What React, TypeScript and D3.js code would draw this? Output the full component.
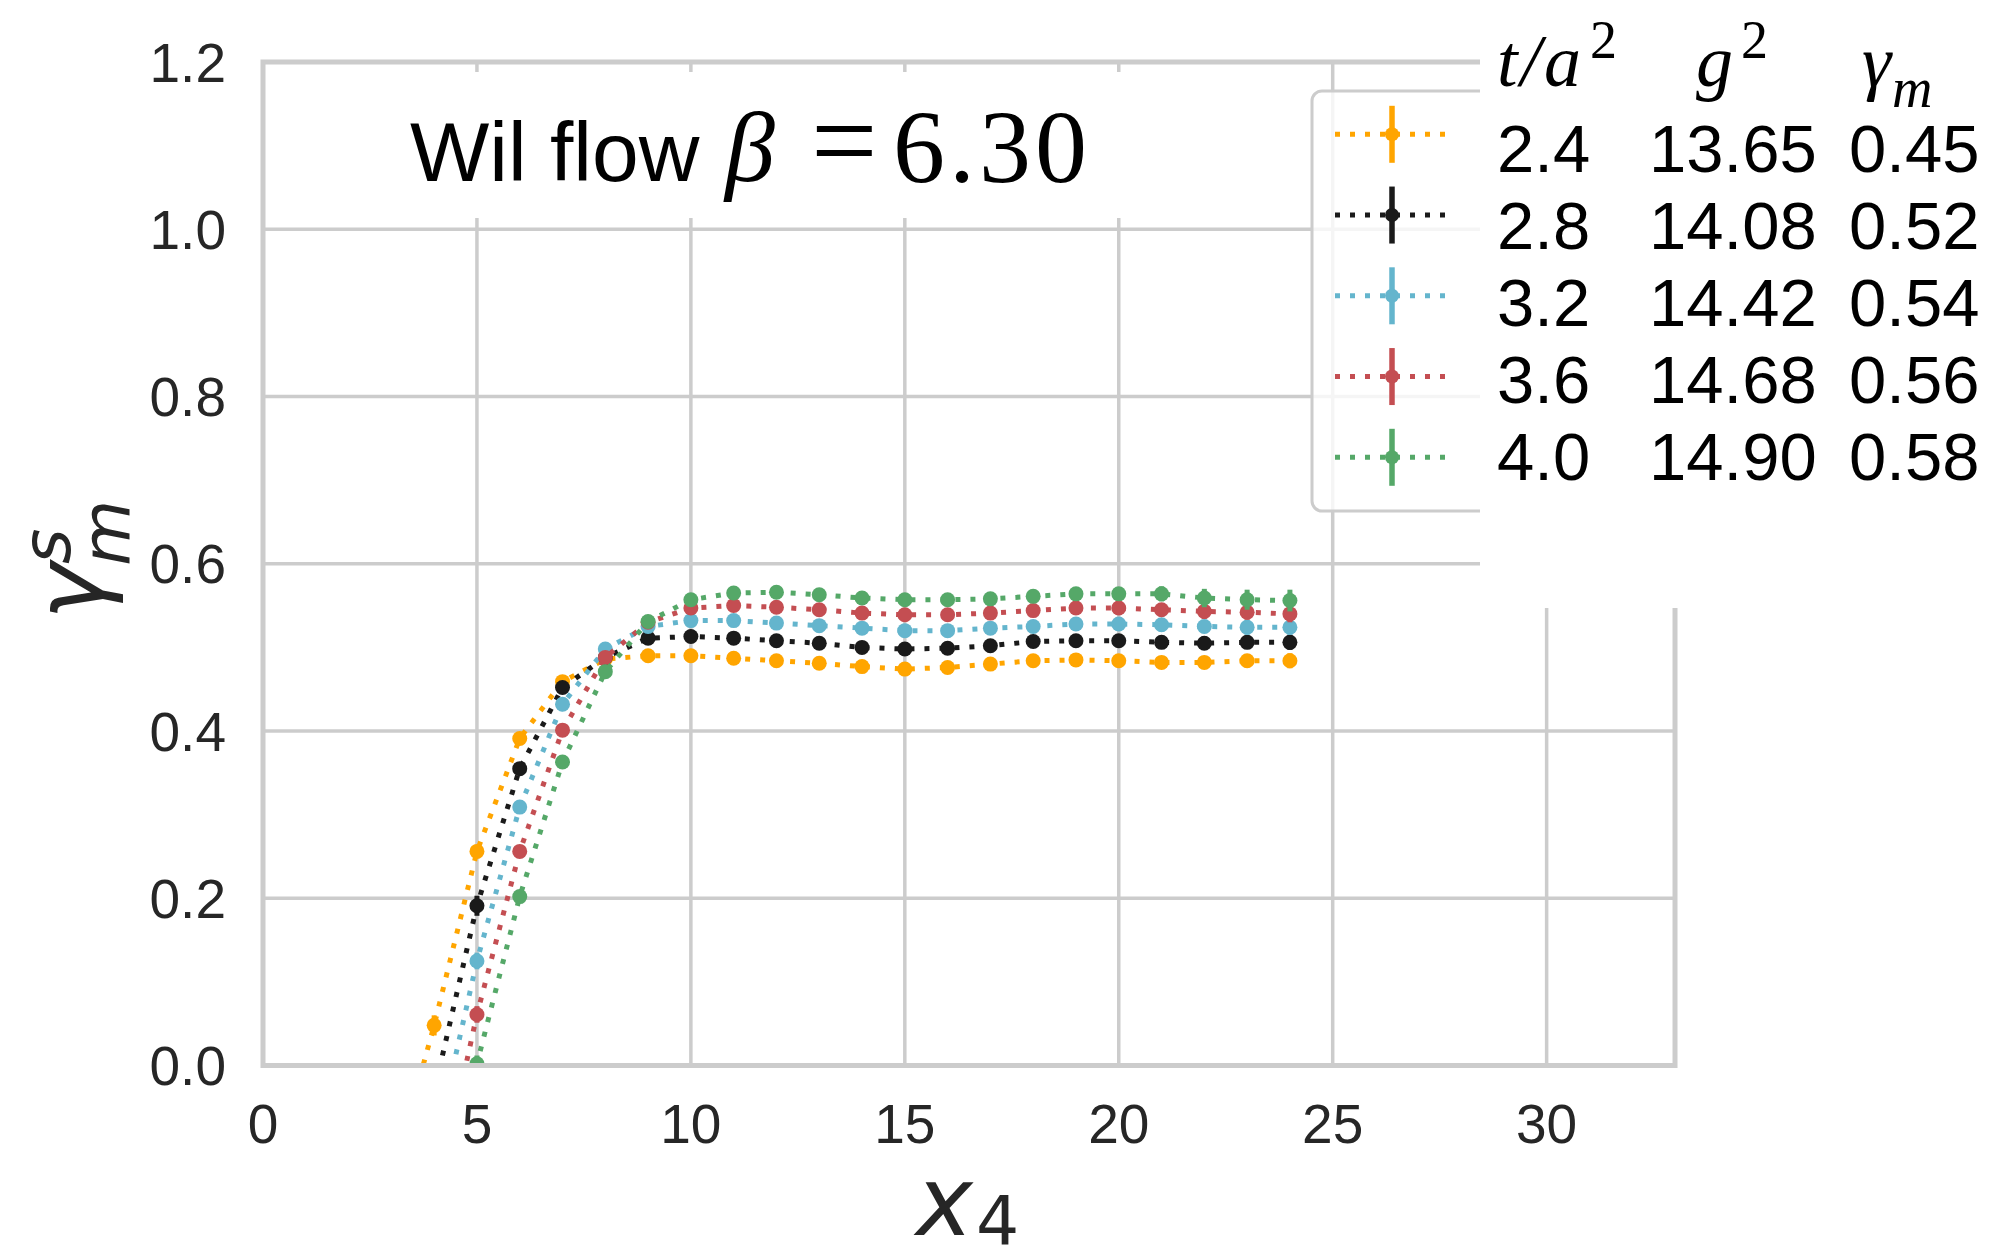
import React from "react";
import * as d3 from "d3";

// Flow-time positions x4 of the measured points
const xPositions = [3, 4, 5, 6, 7, 8, 9, 10, 11, 12, 13, 14, 15, 16, 17, 18, 19, 20, 21, 22, 23, 24];

// gamma_m^s per flow time t/a^2
const orangeValues = [-0.137, 0.048, 0.256, 0.391, 0.459, 0.486, 0.490, 0.490, 0.487, 0.484, 0.481, 0.477, 0.474, 0.476, 0.480, 0.484, 0.485, 0.484, 0.482, 0.482, 0.484, 0.484];
const blackValues = [-0.25, -0.031, 0.191, 0.355, 0.452, 0.488, 0.511, 0.513, 0.511, 0.508, 0.505, 0.500, 0.498, 0.499, 0.502, 0.507, 0.508, 0.508, 0.506, 0.505, 0.506, 0.506];
const blueValues = [-0.30, -0.102, 0.125, 0.309, 0.432, 0.498, 0.525, 0.532, 0.532, 0.529, 0.526, 0.523, 0.520, 0.520, 0.523, 0.525, 0.528, 0.528, 0.527, 0.525, 0.524, 0.524];
const redValues = [-0.36, -0.173, 0.061, 0.256, 0.401, 0.488, 0.530, 0.547, 0.550, 0.548, 0.545, 0.541, 0.539, 0.539, 0.541, 0.544, 0.547, 0.547, 0.545, 0.543, 0.542, 0.540];
const greenValues = [-0.40, -0.20, 0.002, 0.202, 0.363, 0.471, 0.531, 0.557, 0.565, 0.566, 0.563, 0.559, 0.557, 0.557, 0.558, 0.561, 0.564, 0.564, 0.564, 0.559, 0.557, 0.556];

// statistical errors
const orangeErrors = [0.012, 0.012, 0.008, 0.005, 0.004, 0.003, 0.003, 0.003, 0.003, 0.004, 0.004, 0.004, 0.005, 0.005, 0.005, 0.006, 0.006, 0.006, 0.007, 0.007, 0.008, 0.009];
const blackErrors = [0.012, 0.012, 0.012, 0.006, 0.004, 0.003, 0.003, 0.003, 0.004, 0.004, 0.004, 0.005, 0.005, 0.005, 0.006, 0.006, 0.006, 0.007, 0.007, 0.008, 0.008, 0.009];
const blueErrors = [0.012, 0.012, 0.010, 0.006, 0.004, 0.003, 0.003, 0.004, 0.004, 0.004, 0.005, 0.005, 0.005, 0.006, 0.006, 0.006, 0.007, 0.007, 0.008, 0.008, 0.009, 0.009];
const redErrors = [0.012, 0.012, 0.010, 0.006, 0.004, 0.004, 0.004, 0.004, 0.004, 0.005, 0.005, 0.005, 0.006, 0.006, 0.006, 0.007, 0.007, 0.008, 0.008, 0.009, 0.009, 0.010];
const greenErrors = [0.012, 0.012, 0.010, 0.006, 0.005, 0.004, 0.004, 0.004, 0.005, 0.005, 0.005, 0.006, 0.006, 0.006, 0.007, 0.007, 0.008, 0.008, 0.009, 0.011, 0.012, 0.013];

const seriesColors = ["#FFA500", "#1A1A1A", "#64B5CD", "#C44E52", "#55A868"];

// legend table columns
const flowTimes = ["2.4", "2.8", "3.2", "3.6", "4.0"];
const couplings = ["13.65", "14.08", "14.42", "14.68", "14.90"];
const gammaM = ["0.45", "0.52", "0.54", "0.56", "0.58"];

const xTicks = [0, 5, 10, 15, 20, 25, 30];
const yTicks = [0, 0.2, 0.4, 0.6, 0.8, 1.0, 1.2];

const W = 1993;
const H = 1250;
const left = 263;
const right = 1675;
const top = 62;
const bottom = 1065.5;

const SANS = "'Liberation Sans', Arial, sans-serif";
const SERIF = "'Liberation Serif', 'Times New Roman', serif";
const DEJAVU = "'DejaVu Sans', sans-serif";
const GRID = "#cccccc";
const TICK_TEXT = "#262626";

export default function App() {
  const x = d3.scaleLinear().domain([0, 33]).range([left, right]);
  const y = d3.scaleLinear().domain([0, 1.2]).range([bottom, top]);

  const series = [
    { color: seriesColors[0], values: orangeValues, errors: orangeErrors },
    { color: seriesColors[1], values: blackValues, errors: blackErrors },
    { color: seriesColors[2], values: blueValues, errors: blueErrors },
    { color: seriesColors[3], values: redValues, errors: redErrors },
    { color: seriesColors[4], values: greenValues, errors: greenErrors },
  ];

  const line = d3
    .line<number>()
    .x((_, i) => x(xPositions[i]))
    .y((d) => y(d));

  const legendTop = 134.3;
  const legendStep = 80.75;
  const textTop = 171.7;
  const textStep = 77.1;

  return (
    <svg
      width={W}
      height={H}
      viewBox={`0 0 ${W} ${H}`}
      style={{ position: "absolute", left: 0, top: 0, background: "#fff" }}
    >
      <defs>
        <clipPath id="plot-area">
          <rect x={left} y={top} width={right - left} height={bottom - top} />
        </clipPath>
      </defs>
      <rect x={0} y={0} width={W} height={H} fill="#fff" />

      {/* grid */}
      <g stroke={GRID} strokeWidth={3.5}>
        {xTicks.map((t) => (
          <line key={"gx" + t} x1={x(t)} x2={x(t)} y1={top} y2={bottom} />
        ))}
        {yTicks.map((t) => (
          <line key={"gy" + t} x1={left} x2={right} y1={y(t)} y2={y(t)} />
        ))}
      </g>

      {/* data */}
      <g clipPath="url(#plot-area)">
        {series.map((s, k) => (
          <g key={"s" + k}>
            <path
              d={line(s.values) || ""}
              fill="none"
              stroke={s.color}
              strokeWidth={5}
              strokeDasharray="5 10"
            />
            {s.values.map((v, i) => (
              <line
                key={"e" + i}
                x1={x(xPositions[i])}
                x2={x(xPositions[i])}
                y1={y(v - s.errors[i])}
                y2={y(v + s.errors[i])}
                stroke={s.color}
                strokeWidth={5}
              />
            ))}
            {s.values.map((v, i) => (
              <circle key={"c" + i} cx={x(xPositions[i])} cy={y(v)} r={7.5} fill={s.color} />
            ))}
          </g>
        ))}
      </g>

      {/* spines */}
      <rect x={left} y={top} width={right - left} height={bottom - top} fill="none" stroke={GRID} strokeWidth={5} />

      {/* tick labels */}
      <g fontFamily={SANS} fontSize={55} fill={TICK_TEXT}>
        {yTicks.map((t) => (
          <text key={"ty" + t} x={226} y={y(t) + 19.5} textAnchor="end">
            {t.toFixed(1)}
          </text>
        ))}
        {xTicks.map((t) => (
          <text key={"tx" + t} x={x(t)} y={1143} textAnchor="middle">
            {t}
          </text>
        ))}
      </g>

      {/* axis labels */}
      <g fill={TICK_TEXT} fontFamily={DEJAVU}>
        <text x={916} y={1235} fontSize={96} fontStyle="italic">
          x<tspan x={976} dy={10} fontSize={68} fontStyle="normal">4</tspan>
        </text>
        <g transform={`translate(103, 563) rotate(-90)`}>
          <text x={-57} y={0} fontSize={96} fontStyle="italic">
            γ<tspan x={-3} dy={27} fontSize={68}>m</tspan>
            <tspan x={-1} dy={-60} fontSize={68}>s</tspan>
          </text>
        </g>
      </g>

      {/* title */}
      <rect x={360} y={72} width={785} height={146} fill="#fff" />
      <g fill="#000">
        <text x={410} y={181} fontFamily={SANS} fontSize={84}>Wil flow</text>
        <text x={725} y={181} fontFamily={SERIF} fontSize={100} fontStyle="italic">β</text>
        <text x={811} y={181} fontFamily={SERIF} fontSize={118}>=</text>
        <text x={893} y={182} fontFamily={SERIF} fontSize={104} letterSpacing={4}>6.30</text>
      </g>

      {/* legend frame and handles */}
      <rect x={1312} y={91} width={300} height={420} rx={10} fill="#fff" fillOpacity={0.8} stroke={GRID} strokeWidth={3} />
      {seriesColors.map((c, i) => {
        const cy = legendTop + i * legendStep;
        return (
          <g key={"lh" + i}>
            <line x1={1335} x2={1447} y1={cy} y2={cy} stroke={c} strokeWidth={5} strokeDasharray="5 10" />
            <line x1={1392} x2={1392} y1={cy - 28.5} y2={cy + 28.5} stroke={c} strokeWidth={5.5} />
            <circle cx={1392} cy={cy} r={7} fill={c} />
          </g>
        );
      })}
      <rect x={1480} y={0} width={W - 1480} height={608} fill="#fff" />

      {/* legend table header */}
      <g fill="#000" fontFamily={SERIF} fontStyle="italic">
        <text x={1497} y={86} fontSize={74} letterSpacing={3}>
          t/a<tspan x={1590} dy={-28} fontSize={54} fontStyle="normal" letterSpacing={0}>2</tspan>
        </text>
        <text x={1696} y={86} fontSize={74}>
          g<tspan x={1741} dy={-28} fontSize={54} fontStyle="normal">2</tspan>
        </text>
        <text x={1862} y={86} fontSize={74}>
          γ<tspan x={1892} dy={21} fontSize={56}>m</tspan>
        </text>
      </g>
      <g fill="#000" fontFamily={SANS} fontSize={67}>
        {flowTimes.map((t, i) => (
          <g key={"lt" + i}>
            <text x={1497} y={textTop + i * textStep}>{t}</text>
            <text x={1649} y={textTop + i * textStep}>{couplings[i]}</text>
            <text x={1849} y={textTop + i * textStep}>{gammaM[i]}</text>
          </g>
        ))}
      </g>
    </svg>
  );
}
